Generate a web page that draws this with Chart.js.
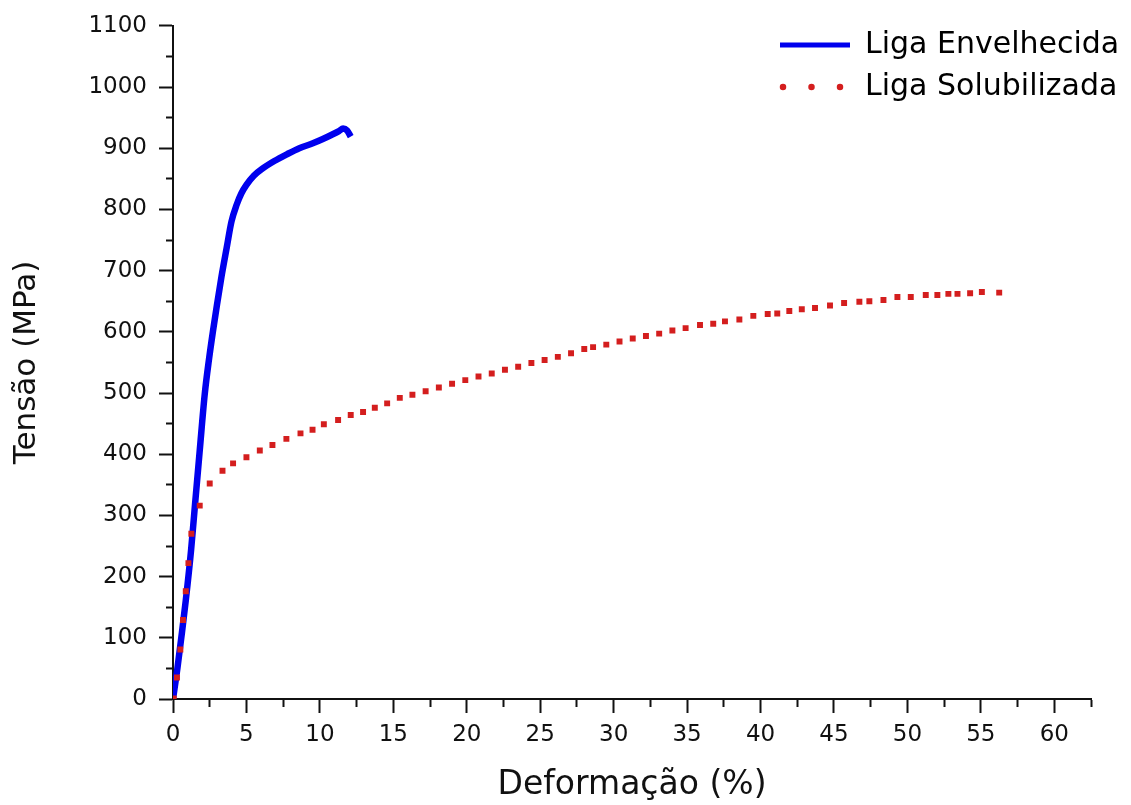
<!DOCTYPE html>
<html>
<head>
<meta charset="utf-8">
<script src="https://cdn.jsdelivr.net/npm/chart.js@4.4.1/dist/chart.umd.min.js"></script>
<style>
  html, body { margin: 0; padding: 0; background: #fff; }
  #wrap { width: 1131px; height: 805px; }
</style>
</head>
<body>
<div id="wrap"><canvas id="tensileChart"></canvas></div>
<script>
// Liga Envelhecida (aged alloy)
const agedStrain = [0, 0.3, 0.57, 0.87, 1.23, 1.5, 1.82, 2.16, 2.45, 2.72, 3.0, 3.3, 3.66, 3.98, 4.34, 4.65, 5.0, 5.5, 6.11, 6.9, 7.75, 8.6, 9.52, 10.2, 10.81, 11.3, 11.58, 11.85, 12.1];
const agedStress = [0, 50, 101, 161, 243, 318, 406, 498, 555, 601, 645, 690, 738, 780, 808, 826, 840, 855, 867, 879, 890, 900, 908, 915, 922, 928, 932, 929, 919];

// Liga Solubilizada (solution treated)
const solStrain = [0.05, 0.27, 0.5, 0.68, 0.87, 1.05, 1.25, 1.82, 2.5, 3.37, 4.09, 5.0, 5.91, 6.77, 7.72, 8.68, 9.5, 10.27, 11.24, 12.1, 12.94, 13.74, 14.58, 15.44,
  16.3, 17.2, 18.1, 19.0, 19.9, 20.8, 21.7, 22.6, 23.5, 24.4, 25.3, 26.2, 27.1, 28.0, 28.6, 29.5, 30.4, 31.3, 32.2, 33.1, 34.0, 34.9, 35.88,
  36.78, 37.58, 38.56, 39.51, 40.49, 41.14, 41.96, 42.81, 43.71, 44.73, 45.69, 46.73, 47.41, 48.37, 49.32, 50.23, 51.25, 52.04, 52.79, 53.41, 54.27, 55.07, 56.25];
const solStress = [1, 35, 81, 129, 176, 222, 270, 316, 352, 373, 385, 395, 406, 415, 425, 434, 440, 449, 456, 464, 469, 476, 483, 492,
  497, 503, 509, 515, 521, 527, 532, 538, 543, 549, 554, 559, 565, 572, 575, 579, 584, 589, 593, 597, 602, 606, 611,
  613, 617, 620, 626, 629, 630, 634, 637, 639, 643, 647, 649, 650, 652, 657, 657, 660, 660, 662, 662, 663, 665, 664];

const seriesLabels = ['Liga Envelhecida', 'Liga Solubilizada'];
const xTitle = 'Deformação (%)';
const yTitle = 'Tensão (MPa)';

const ink = '#111111';
const blue = '#0000ee';
const red = '#d41e1e';
const face = "'DejaVu Sans', sans-serif";

const toPoints = (xs, ys) => xs.map((x, i) => ({ x, y: ys[i] }));
const isMajor = (v, step) => Math.abs(v / step - Math.round(v / step)) < 1e-6;

// move the vertical legend to the upper right corner (it hangs past the plot edge)
const legendSpot = {
  id: 'legendSpot',
  afterLayout(chart) {
    const lg = chart.legend;
    lg.left = 768;
    lg.top = 18;
    lg.right = lg.left + lg.width;
    lg.bottom = lg.top + lg.height;
  }
};

const ctx = document.getElementById('tensileChart').getContext('2d');

new Chart(ctx, {
  type: 'scatter',
  data: {
    datasets: [{
      label: seriesLabels[0],
      data: toPoints(agedStrain, agedStress),
      showLine: true,
      borderColor: blue,
      backgroundColor: blue,
      borderWidth: 6.5,
      pointRadius: 0,
      cubicInterpolationMode: 'monotone',
      order: 1
    }, {
      label: seriesLabels[1],
      data: toPoints(solStrain, solStress),
      showLine: false,
      pointStyle: 'rect',
      pointRadius: 4.2,
      borderWidth: 0,
      backgroundColor: red,
      borderColor: red,
      order: 0
    }]
  },
  options: {
    responsive: true,
    maintainAspectRatio: false,
    animation: false,
    layout: { padding: { left: 0, top: 24, right: 40, bottom: 0 } },
    plugins: {
      tooltip: { enabled: false },
      legend: {
        position: 'chartArea',
        align: 'start',
        labels: {
          usePointStyle: true,
          pointStyleWidth: 70,
          padding: 12,
          color: ink,
          font: { family: face, size: 30 },
          generateLabels: chart => chart.data.datasets.map((ds, i) => ({
            text: ds.label,
            datasetIndex: i,
            hidden: false,
            pointStyle: 'line',
            strokeStyle: ds.borderColor,
            fillStyle: ds.borderColor,
            lineWidth: i === 0 ? 5 : 6.5,
            lineCap: i === 0 ? 'butt' : 'round',
            lineDash: i === 0 ? [] : [0, 28.5],
            lineDashOffset: i === 0 ? 0 : 25.5
          }))
        }
      }
    },
    scales: {
      x: {
        type: 'linear',
        min: 0,
        max: 62.5,
        border: { display: true, color: ink, width: 2 },
        grid: {
          drawOnChartArea: false,
          tickLength: 14,
          tickWidth: 2,
          tickColor: ink,
          tickBorderDash: c => (c.tick && !isMajor(c.tick.value, 5)) ? [7, 100] : []
        },
        ticks: {
          stepSize: 2.5,
          autoSkip: false,
          maxRotation: 0,
          padding: 8,
          color: ink,
          font: { family: face, size: 23 },
          callback: v => isMajor(v, 5) ? v : ''
        },
        title: { display: true, text: xTitle, color: ink, font: { family: face, size: 33 }, padding: 0 },
        afterFit: s => { s.height = 106; }
      },
      y: {
        type: 'linear',
        min: 0,
        max: 1100,
        border: { display: true, color: ink, width: 2 },
        grid: {
          drawOnChartArea: false,
          tickLength: 14,
          tickWidth: 2,
          tickColor: ink,
          tickBorderDash: c => (c.tick && !isMajor(c.tick.value, 100)) ? [0, 7, 7, 100] : []
        },
        ticks: {
          stepSize: 50,
          autoSkip: false,
          padding: 12,
          color: ink,
          font: { family: face, size: 23 },
          callback: v => isMajor(v, 100) ? v : ''
        },
        title: { display: true, text: yTitle, color: ink, font: { family: face, size: 31 }, padding: { top: 8, bottom: 0 } },
        afterFit: s => { s.width = 173; }
      }
    }
  },
  plugins: [legendSpot]
});
</script>
</body>
</html>
